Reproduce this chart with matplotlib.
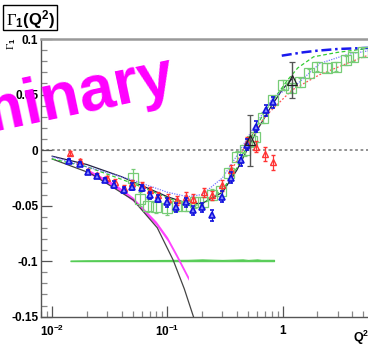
import numpy as np
import matplotlib
matplotlib.use("Agg")
import matplotlib.pyplot as plt
from matplotlib.patches import Rectangle

plt.rcParams['font.family'] = ['Liberation Sans', 'DejaVu Sans']
plt.rcParams['mathtext.fontset'] = 'custom'
plt.rcParams['mathtext.rm'] = 'Liberation Serif'
plt.rcParams['mathtext.bf'] = 'Liberation Sans:bold'
plt.rcParams['mathtext.it'] = 'Liberation Serif:italic'

# ---- data ----
red_x = [0.0144, 0.0173, 0.0206, 0.0247, 0.0296, 0.035, 0.0417, 0.0497, 0.06, 0.071,
         0.083, 0.102, 0.122, 0.144, 0.168, 0.206, 0.245, 0.30, 0.354, 0.49, 0.59, 0.70, 0.83]
red_y = [-0.0024, -0.0097, -0.019, -0.0225, -0.025, -0.029, -0.034, -0.030, -0.0316, -0.036,
         -0.0406, -0.0436, -0.045, -0.042, -0.0436, -0.038, -0.0406, -0.0316, -0.018, 0.007,
         0.003, -0.0036, -0.011]
red_e = [0.002, 0.002, 0.002, 0.002, 0.002, 0.003, 0.003, 0.003, 0.003, 0.003,
         0.003, 0.004, 0.004, 0.004, 0.004, 0.004, 0.004, 0.005, 0.005, 0.005, 0.005, 0.006, 0.007]

blue_x = [0.0141, 0.0173, 0.0206, 0.0247, 0.029, 0.0347, 0.0416, 0.0497, 0.06, 0.071, 0.083,
          0.1, 0.118, 0.144, 0.168, 0.2, 0.245, 0.30, 0.354, 0.43, 0.49, 0.59, 0.72, 0.83]
blue_y = [-0.0097, -0.0126, -0.0196, -0.0235, -0.027, -0.031, -0.036, -0.033, -0.034, -0.0406,
          -0.0436, -0.047, -0.0514, -0.047, -0.054, -0.0514, -0.0587, -0.042, -0.025, -0.009,
          0.005, 0.021, 0.036, 0.043]
blue_e = [0.002, 0.002, 0.002, 0.002, 0.002, 0.003, 0.003, 0.003, 0.003, 0.003, 0.003,
          0.004, 0.004, 0.004, 0.004, 0.004, 0.005, 0.005, 0.005, 0.005, 0.005, 0.005, 0.005, 0.005]

green_x = [0.05, 0.058, 0.068, 0.08, 0.1, 0.122, 0.144, 0.175, 0.205, 0.245, 0.29, 0.34, 0.40,
           0.47, 0.54, 0.57, 0.68, 0.82, 1.0, 1.19, 1.42, 1.7, 2.0, 2.4, 2.9, 3.5, 4.1, 5.0]
green_y = [-0.025, -0.044, -0.05, -0.051, -0.052, -0.05, -0.05, -0.047, -0.047, -0.040, -0.037,
           -0.021, -0.006, 0.0, 0.008, 0.012, 0.029, 0.045, 0.059, 0.056, 0.061, 0.069, 0.075,
           0.074, 0.075, 0.081, 0.084, 0.088]
green_e = [0.008, 0.006, 0.006, 0.006, 0.006, 0.005, 0.005, 0.005, 0.005, 0.005, 0.005, 0.005,
           0.005, 0.005, 0.005, 0.005, 0.005, 0.004, 0.004, 0.004, 0.004, 0.004, 0.004, 0.004,
           0.004, 0.004, 0.004, 0.004]

black_x = [0.52, 1.21]
black_y = [0.009, 0.063]
black_e = [0.023, 0.016]

# model curves
bi_x = [0.01, 0.02, 0.04, 0.07, 0.1, 0.15, 0.2, 0.3, 0.4, 0.5, 0.6, 0.8, 1.0, 1.2]
bi_y = [-0.0055, -0.013, -0.024, -0.035, -0.042, -0.048, -0.048, -0.038, -0.018, 0.002, 0.018,
        0.040, 0.055, 0.064]
chpt_x = [0.01, 0.0214, 0.0506, 0.0816, 0.112, 0.14, 0.168]
chpt_y = [-0.008, -0.0208, -0.045, -0.070, -0.099, -0.125, -0.150]
band_x = [0.02, 0.035, 0.05, 0.08, 0.1, 0.12, 0.152]
band_y = [-0.0185, -0.032, -0.044, -0.066, -0.080, -0.095, -0.1155]
gdash_x = [0.01, 0.02, 0.05, 0.1, 0.15, 0.2, 0.3, 0.4, 0.5, 0.68, 1.1, 1.35, 1.85, 3.0, 6.0]
gdash_y = [-0.008, -0.015, -0.030, -0.043, -0.050, -0.049, -0.036, -0.016, 0.006, 0.033, 0.063,
           0.074, 0.084, 0.088, 0.092]
bdot_x = [0.01, 0.05, 0.1, 0.15, 0.2, 0.3, 0.4, 0.5, 0.7, 0.83, 1.35, 2.1, 3.6, 6.0]
bdot_y = [-0.006, -0.027, -0.038, -0.042, -0.040, -0.025, -0.005, 0.012, 0.036, 0.048, 0.060,
          0.078, 0.086, 0.090]
rdot_x = [0.35, 0.5, 0.7, 1.2, 2.1, 3.6, 6.0]
rdot_y = [-0.020, 0.008, 0.030, 0.054, 0.068, 0.078, 0.087]
bdash_x = [0.98, 1.5, 2.0, 3.0, 5.4, 6.0]
bdash_y = [0.085, 0.088, 0.0895, 0.091, 0.092, 0.092]
sys_x = [0.0144, 0.02, 0.03, 0.05, 0.1, 0.15, 0.2, 0.25, 0.3, 0.45, 0.5, 0.6, 0.65, 0.84]
sys_h = [0.0006, 0.0008, 0.0009, 0.0009, 0.0011, 0.0012, 0.0016, 0.0013, 0.0011, 0.0016, 0.0011,
         0.0016, 0.0012, 0.0012]

# ---- figure ----
W, H = 368, 346
fig = plt.figure(figsize=(W / 100, H / 100), dpi=100)
ax = fig.add_axes([41 / W, 29.3 / H, 331.5 / W, 277.7 / H])
ax.set_xscale('log')
ax.set_xlim(0.008, 6)
ax.set_ylim(-0.15, 0.1)

ax.axhline(0, color='#888888', ls=(0, (1.5, 1.5)), lw=1.3, zorder=1)

ax.fill_between(sys_x, -0.1, -0.1 + np.array(sys_h), color='#55cc55', lw=0.8,
                edgecolor='#55cc55', zorder=2)
band_y = np.array(band_y)
ax.fill_between(band_x, band_y - 0.0018, band_y + 0.0018, color='#ff44ff', lw=0, zorder=2)

ax.plot(chpt_x, chpt_y, color='#444444', lw=0.9, zorder=3)
ax.plot(bi_x, bi_y, color='#222244', lw=0.9, zorder=3)
ax.plot(gdash_x, gdash_y, color='#33cc33', lw=0.9, ls=(0, (3, 2)), zorder=3)
ax.plot(bdot_x, bdot_y, color='#7777ff', lw=0.9, ls=(0, (1, 1)), zorder=3)
ax.plot(rdot_x, rdot_y, color='#ff5555', lw=0.9, ls=(0, (1.5, 1.5)), zorder=3)
ax.plot(bdash_x, bdash_y, color='#1a1aee', lw=1.8, ls=(0, (4, 1.5, 1, 1.5)), zorder=3)

ax.errorbar(green_x, green_y, yerr=green_e, fmt='s', ms=6.5, mfc='none', mec='#77cc77',
            ecolor='#77cc77', mew=0.9, elinewidth=0.9, capsize=1.5, zorder=4)
ax.errorbar(red_x, red_y, yerr=red_e, fmt='^', ms=4, mfc='none', mec='#ff3333',
            ecolor='#ff3333', mew=1.0, elinewidth=0.9, capsize=1.5, zorder=5)
ax.errorbar(blue_x, blue_y, yerr=blue_e, fmt='^', ms=4, mfc='#8888ff', mec='#1111dd',
            ecolor='#1111dd', mew=1.2, elinewidth=0.9, capsize=1.5, zorder=6)
ax.errorbar(black_x, black_y, yerr=black_e, fmt='^', ms=7, mfc='none', mec='#222222',
            ecolor='#555555', mew=0.9, elinewidth=1.0, capsize=2, zorder=7)

# frame and ticks
for side in ['left', 'bottom']:
    ax.spines[side].set_color('#555555')
    ax.spines[side].set_linewidth(1.0)
ax.spines['top'].set_color('#999999')
ax.spines['top'].set_linewidth(1.8)
ax.spines['right'].set_visible(False)
ax.set_yticks([-0.15, -0.1, -0.05, 0, 0.05, 0.1])
ax.set_yticklabels(['-0.15', '-0.1', '-0.05', '0', '0.05', '0.1'])
ax.set_yticks(np.arange(-0.15, 0.1001, 0.01), minor=True)
ax.set_xticks([0.01, 0.1, 1])
ax.set_xticklabels([r'$\mathbf{10^{-2}}$', r'$\mathbf{10^{-1}}$', r'$\mathbf{1}$'])
ax.tick_params(axis='both', which='major', direction='in', length=8, width=0.9,
               color='#555555', labelsize=8.5, pad=2, top=False, right=False)
ax.tick_params(axis='both', which='minor', direction='in', length=4, width=0.9,
               color='#888888', top=False, right=False)
ax.tick_params(axis='x', which='major', pad=5)
for lab in ax.get_yticklabels():
    lab.set_fontweight('bold')

# preliminary watermark
fig.text(177 / W, 1 - 92 / H, 'Preliminary', color='#ff00ff', fontsize=46,
         fontweight='bold', rotation=12, rotation_mode='anchor', ha='right',
         va='baseline', zorder=10)

# title box
fig.patches.append(Rectangle((3 / W, 1 - 30 / H), 54 / W, 25 / H, transform=fig.transFigure,
                             fc='white', ec='black', lw=1.0, zorder=11))
fig.text(6 / W, 1 - 25 / H, r'$\Gamma_{\mathbf{1}}\mathbf{(Q^{2})}$', fontsize=12,
         ha='left', va='baseline', zorder=12)
fig.text(12 / W, 1 - 44 / H, r'$\Gamma_{\mathbf{1}}$', fontsize=8, rotation=90,
         ha='center', va='center', zorder=12)
fig.text(361 / W, 1 - 338 / H, r'$\mathbf{Q^{2}}$', fontsize=9, ha='center', va='center')

fig.savefig('out.png', dpi=100)
